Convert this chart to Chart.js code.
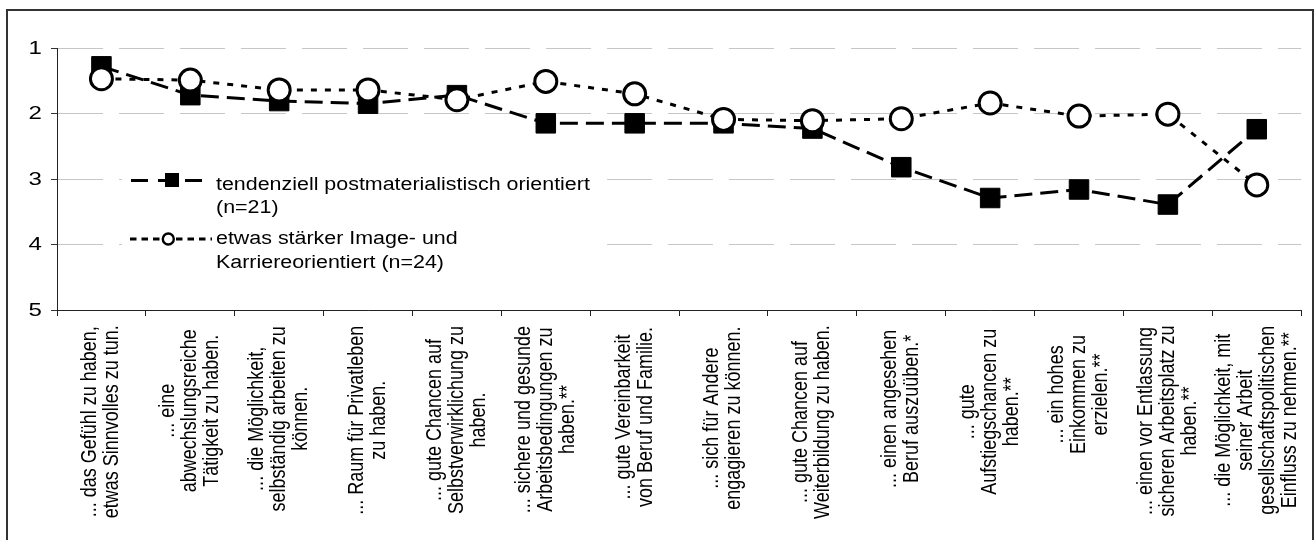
<!DOCTYPE html>
<html>
<head>
<meta charset="utf-8">
<script src="https://cdn.jsdelivr.net/npm/chart.js@4.4.0/dist/chart.umd.min.js"></script>
<style>
html,body{margin:0;padding:0;background:#fff;}
canvas{display:block;}
</style>
</head>
<body>
<canvas id="c" width="1316" height="540"></canvas>
<script>
// ---- data ----
const categories = [
  ["... das Gefühl zu haben,", "etwas Sinnvolles zu tun."],
  ["... eine", "abwechslungsreiche", "Tätigkeit zu haben."],
  ["... die Möglichkeit,", "selbständig arbeiten zu", "können."],
  ["... Raum für Privatleben", "zu haben."],
  ["... gute Chancen auf", "Selbstverwirklichung zu", "haben."],
  ["... sichere und gesunde", "Arbeitsbedingungen zu", "haben.**"],
  ["... gute Vereinbarkeit", "von Beruf und Familie."],
  ["... sich für Andere", "engagieren zu können."],
  ["... gute Chancen auf", "Weiterbildung zu haben."],
  ["... einen angesehen", "Beruf auszuüben.*"],
  ["... gute", "Aufstiegschancen zu", "haben.**"],
  ["... ein hohes", "Einkommen zu", "erzielen.**"],
  ["... einen vor Entlassung", "sicheren Arbeitsplatz zu", "haben.**"],
  ["... die Möglichkeit, mit", "seiner Arbeit", "gesellschaftspolitischen", "Einfluss zu nehmen.**"]
];
const seriesPostmatName = ["tendenziell postmaterialistisch orientiert", "(n=21)"];
const seriesImageName = ["etwas stärker Image- und", "Karriereorientiert (n=24)"];
const postmat = [1.28, 1.72, 1.81, 1.85, 1.72, 2.15, 2.15, 2.15, 2.23, 2.82, 3.29, 3.16, 3.39, 2.24];
const imageKarriere = [1.47, 1.49, 1.64, 1.64, 1.79, 1.51, 1.70, 2.09, 2.11, 2.08, 1.84, 2.04, 2.01, 3.09];
const yTicks = [1, 2, 3, 4, 5];

const FONT = '"Liberation Sans", Arial, sans-serif';

const framePlugin = {
  id: 'frame',
  beforeDraw(chart) {
    const ctx = chart.ctx;
    ctx.save();
    ctx.fillStyle = '#fff';
    ctx.fillRect(0, 0, chart.width, chart.height);
    ctx.restore();
  },
  afterDraw(chart) {
    const ctx = chart.ctx;
    ctx.save();
    ctx.strokeStyle = '#333';
    ctx.lineWidth = 2;
    ctx.strokeRect(7, 10, 1306, 600);
    ctx.restore();
  }
};

const yLabelPlugin = {
  id: 'ylabels',
  afterDraw(chart) {
    const ctx = chart.ctx;
    const y = chart.scales.y;
    ctx.save();
    ctx.font = '18.5px ' + FONT;
    ctx.fillStyle = '#000';
    ctx.textAlign = 'right';
    ctx.textBaseline = 'middle';
    yTicks.forEach(v => {
      ctx.save();
      ctx.translate(y.right - 15, y.getPixelForValue(v) + 0.5);
      ctx.scale(1.3, 1);
      ctx.fillText(String(v), 0, 0);
      ctx.restore();
    });
    ctx.restore();
  }
};

const xLabelPlugin = {
  id: 'xlabels',
  afterDraw(chart) {
    const ctx = chart.ctx;
    const x = chart.scales.x;
    ctx.save();
    ctx.font = '18px ' + FONT;
    ctx.fillStyle = '#000';
    ctx.textAlign = 'center';
    ctx.textBaseline = 'middle';
    const lineH = 22, sx = 1.2;
    categories.forEach((lines, i) => {
      const cx = x.getPixelForTick(i);
      const maxW = Math.max(...lines.map(l => ctx.measureText(l).width));
      const top = x.top + 15 + 0.13 * Math.max(0, 195 - maxW);
      const n = lines.length;
      lines.forEach((line, j) => {
        const px = cx + (j - (n - 1) / 2) * lineH;
        ctx.save();
        ctx.translate(px, top + maxW / 2);
        ctx.rotate(-Math.PI / 2);
        ctx.scale(1, sx);
        ctx.fillText(line, 0, 0);
        ctx.restore();
      });
    });
    ctx.restore();
  }
};

const legendPlugin = {
  id: 'customLegend',
  afterDatasetsDraw(chart) {
    const ctx = chart.ctx;
    ctx.save();
    ctx.fillStyle = '#fff';
    ctx.fillRect(122, 160, 480, 108);
    // entry 1
    ctx.strokeStyle = '#000';
    ctx.lineWidth = 3;
    ctx.setLineDash([17, 10]);
    ctx.beginPath(); ctx.moveTo(131, 180.5); ctx.lineTo(204, 180.5); ctx.stroke();
    ctx.setLineDash([]);
    ctx.fillStyle = '#000';
    ctx.fillRect(165, 173, 14, 14);
    // entry 2
    ctx.setLineDash([6.5, 5]);
    ctx.beginPath(); ctx.moveTo(130, 239); ctx.lineTo(212, 239); ctx.stroke();
    ctx.setLineDash([]);
    ctx.beginPath(); ctx.arc(168.3, 239, 5.5, 0, Math.PI * 2);
    ctx.fillStyle = '#fff'; ctx.fill();
    ctx.lineWidth = 2.4; ctx.strokeStyle = '#000'; ctx.stroke();
    // texts
    ctx.fillStyle = '#000';
    ctx.font = '18px ' + FONT;
    ctx.textAlign = 'left';
    ctx.textBaseline = 'alphabetic';
    const put = (t, y) => {
      ctx.save(); ctx.translate(216, y); ctx.scale(1.19, 1); ctx.fillText(t, 0, 0); ctx.restore();
    };
    put(seriesPostmatName[0], 189.5);
    put(seriesPostmatName[1], 213);
    put(seriesImageName[0], 243.5);
    put(seriesImageName[1], 267.5);
    ctx.restore();
  }
};

new Chart(document.getElementById('c').getContext('2d'), {
  type: 'line',
  data: {
    labels: categories.map(c => c.join(' ')),
    datasets: [
      {
        label: seriesPostmatName.join(' '),
        data: postmat,
        borderColor: '#000',
        borderWidth: 3,
        borderDash: [18, 8],
        pointStyle: 'rect',
        pointRadius: 13.8,
        pointBackgroundColor: '#000',
        pointBorderColor: '#000',
        pointBorderWidth: 1,
        fill: false,
        tension: 0,
        order: 2
      },
      {
        label: seriesImageName.join(' '),
        data: imageKarriere,
        borderColor: '#000',
        borderWidth: 3,
        borderDash: [6, 8],
        pointStyle: 'circle',
        pointRadius: 11,
        pointBackgroundColor: '#fff',
        pointBorderColor: '#000',
        pointBorderWidth: 3,
        fill: false,
        tension: 0,
        order: 1
      }
    ]
  },
  options: {
    responsive: false,
    animation: false,
    devicePixelRatio: 1,
    layout: { padding: { left: 0, top: 48, right: 10, bottom: 0 } },
    plugins: { legend: { display: false }, tooltip: { enabled: false } },
    scales: {
      x: {
        offset: true,
        grid: { offset: true, drawOnChartArea: false, drawTicks: true, tickLength: 6, tickColor: '#222', tickWidth: 1 },
        border: { color: '#222', width: 1 },
        ticks: { display: false },
        afterFit(s) { s.height = 230; }
      },
      y: {
        reverse: true,
        min: 1,
        max: 5,
        afterBuildTicks(s) { s.ticks = yTicks.map(v => ({ value: v })); },
        ticks: { display: false },
        grid: { color: '#c6c6c6', lineWidth: 1, tickLength: 6, tickColor: '#333', drawTicks: true },
        border: { color: '#222', width: 1, dash: [45, 16] },
        afterFit(s) { s.width = 57; }
      }
    }
  },
  plugins: [framePlugin, legendPlugin, xLabelPlugin, yLabelPlugin]
});
</script>
</body>
</html>
